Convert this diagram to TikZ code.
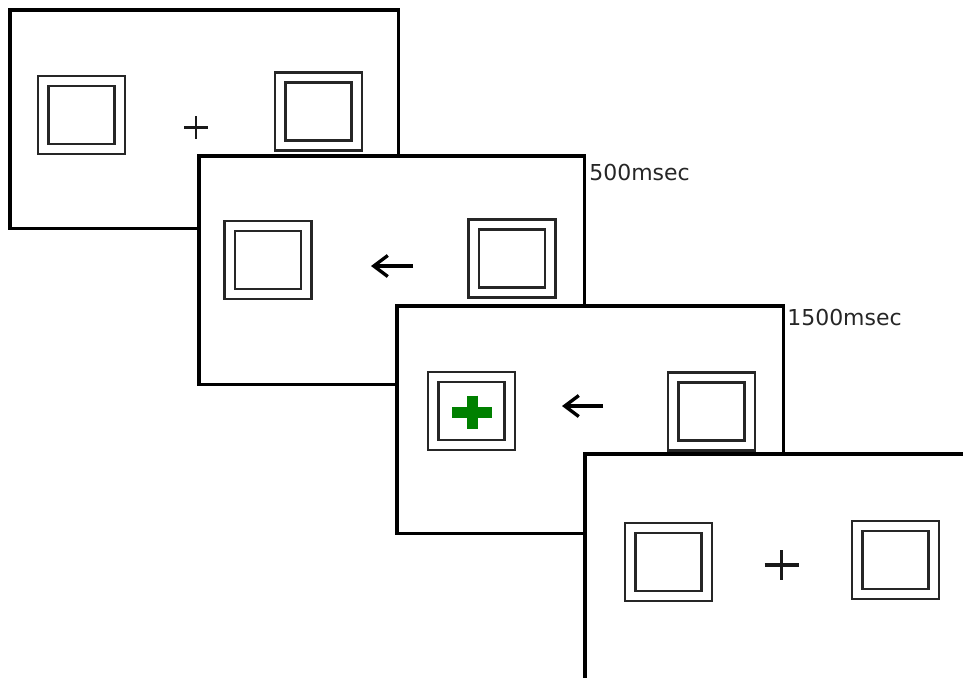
\documentclass[tikz,border=0pt]{standalone}
\usepackage{fontspec}
\setmainfont{DejaVu Sans}
\usepackage{xcolor}
\usepackage{tikz}
\usetikzlibrary{arrows.meta,positioning}

\begin{document}
\begin{tikzpicture}[x=0.02cm, y=-0.02cm, every node/.style={font=\fontsize{12.5}{15}\selectfont}]
\tikzstyle{screen} = [rectangle, draw=black, fill=white, line width=2pt, inner sep=0pt, anchor=north west]
\tikzstyle{outerbox} = [rectangle, draw=black!85, line width=1.4pt, minimum width=1.74cm, minimum height=1.56cm, inner sep=0pt]
\tikzstyle{innerbox} = [rectangle, draw=black!85, line width=1.4pt, minimum width=1.32cm, minimum height=1.16cm, inner sep=0pt]
\tikzstyle{fixcross} = [line width=1.5pt, black!90]
\tikzstyle{cue} = [line width=1.9pt, black, -{Straight Barb[length=0.28cm,width=0.42cm]}]
\tikzstyle{hitcross} = [line width=0.22cm, green!50!black]
\tikzstyle{timing} = [anchor=west, text=black!85, inner sep=0pt]

\useasboundingbox (0,0) rectangle (963,677);
\clip (0,0) rectangle (963,677);

% fixation
\node (scr1) [screen, minimum width=7.78cm, minimum height=4.38cm] at (8,8) {};
\node (box1l) [outerbox] at (81.5,115) {};
\node (in1l) [innerbox] at (box1l) {};
\node (box1r) [outerbox] at (318.5,111.5) {};
\node (in1r) [innerbox] at (box1r) {};
\coordinate (fix1) at (196,127.5);
\draw[fixcross] (fix1) ++(-12,0) -- ++(24,0) (fix1) ++(0,-11.5) -- ++(0,23);

% cue
\node (scr2) [screen, minimum width=7.72cm, minimum height=4.58cm] at (197,154) {};
\node (box2l) [outerbox] at (268,260) {};
\node (in2l) [innerbox] at (box2l) {};
\node (box2r) [outerbox] at (512,258.5) {};
\node (in2r) [innerbox] at (box2r) {};
\coordinate (cue2) at (413,266);
\draw[cue] (cue2) -- ++(-42,0);
\node (t500) [timing] at (589,172) {500msec};

% target
\node (scr3) [screen, minimum width=7.74cm, minimum height=4.56cm] at (395,304) {};
\node (box3l) [outerbox] at (471.5,411) {};
\node (in3l) [innerbox] at (box3l) {};
\node (box3r) [outerbox] at (711.5,411.5) {};
\node (in3r) [innerbox] at (box3r) {};
\coordinate (hit) at (472,412);
\draw[hitcross] (hit) ++(-20,0) -- ++(40,0) (hit) ++(0,-16.5) -- ++(0,33);
\coordinate (cue3) at (603,406);
\draw[cue] (cue3) -- ++(-41,0);
\node (t1500) [timing] at (787,317) {1500msec};

% back to fixation
\node (scr4) [screen, minimum width=8.2cm, minimum height=4.8cm] at (583,452) {};
\node (box4l) [outerbox] at (668.5,562) {};
\node (in4l) [innerbox] at (box4l) {};
\node (box4r) [outerbox] at (895.5,560) {};
\node (in4r) [innerbox] at (box4r) {};
\coordinate (fix4) at (781.5,565);
\draw[fixcross, line width=1.9pt] (fix4) ++(-17,0) -- ++(34,0) (fix4) ++(0,-15) -- ++(0,30);
\end{tikzpicture}
\end{document}
